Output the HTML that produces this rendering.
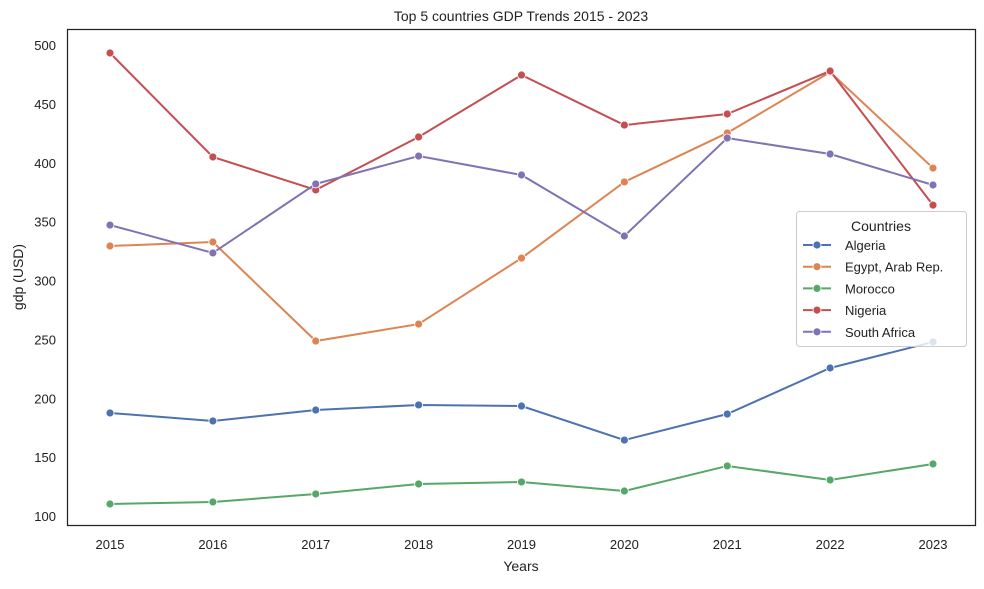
<!DOCTYPE html>
<html><head><meta charset="utf-8"><style>
body{margin:0;background:#fff;font-family:"Liberation Sans","DejaVu Sans",sans-serif;}
svg text{font-family:"Liberation Sans","DejaVu Sans",sans-serif;fill:#222;}
</style></head><body>
<svg id="chart" width="984" height="584" xmlns="http://www.w3.org/2000/svg">
<rect width="984" height="584" fill="#fff"/>
<text x="521" y="21" font-size="14" text-anchor="middle">Top 5 countries GDP Trends 2015 - 2023</text>
<g id="axes"></g>
<g id="series"></g>
<rect x="67.5" y="29.5" width="908" height="496" fill="none" stroke="#222" stroke-width="1.25"/>
<text x="521" y="571" font-size="14" text-anchor="middle">Years</text>
<text x="23" y="277" font-size="14" text-anchor="middle" transform="rotate(-90 23 277)">gdp (USD)</text>
<g id="legend"></g>
</svg>
<script>
const years=[2015,2016,2017,2018,2019,2020,2021,2022,2023];
const yTicks=[100,150,200,250,300,350,400,450,500];
const countries=["Algeria","Egypt, Arab Rep.","Morocco","Nigeria","South Africa"];
const colors=["#4c72b0","#dd8452","#55a868","#c44e52","#8172b3"];
const algeria=[187.5,180.7,190,194.3,193.4,164.5,186.6,225.7,247.8];
const egypt=[329.3,332.7,248.6,263,319,383.7,425.3,477,395.5];
const morocco=[110.2,111.9,118.7,127.2,128.9,121.2,142.5,130.6,144.2];
const nigeria=[493.2,404.9,376.9,421.9,474.5,432,441.4,477.9,364];
const southAfrica=[347.1,323.4,382,405.7,389.6,337.8,421,407.4,381.1];
const seriesData=[algeria,egypt,morocco,nigeria,southAfrica];

const NS="http://www.w3.org/2000/svg";
const xs=y=>110+(y-2015)*(933-110)/8;
const ys=v=>516-(v-100)*(471/400);
function mk(tag,attrs,parent){const e=document.createElementNS(NS,tag);for(const k in attrs)e.setAttribute(k,attrs[k]);parent.appendChild(e);return e;}
const axes=document.getElementById('axes');
years.forEach(y=>{
  const t=mk('text',{x:xs(y),y:549,'font-size':13,'text-anchor':'middle'},axes);
  t.textContent=y;
  
  
});
yTicks.forEach(v=>{
  const t=mk('text',{x:56,y:ys(v)+5,'font-size':13,'text-anchor':'end'},axes);
  t.textContent=v;
  
  
});
const sg=document.getElementById('series');
seriesData.forEach((d,i)=>{
  const g=mk('g',{},sg);
  
  
  mk('polyline',{points:d.map((v,j)=>xs(years[j])+','+ys(v)).join(' '),fill:'none',stroke:colors[i],'stroke-width':2},g);
  d.forEach((v,j)=>{
    const c=mk('circle',{cx:xs(years[j]),cy:ys(v),r:4,fill:colors[i],stroke:'#fff','stroke-width':0.8},g);
    
    
  });
});
const lg=document.getElementById('legend');
mk('rect',{x:796.5,y:211.5,width:170,height:135,rx:3,fill:'#fff','fill-opacity':0.8,stroke:'#ccc'},lg);
const lt=mk('text',{x:881,y:231,'font-size':14,'text-anchor':'middle'},lg);
lt.textContent='Countries';


countries.forEach((c,i)=>{
  const y=245+i*21.7;
  const e=mk('g',{},lg);
  
  
  mk('line',{x1:803,x2:831,y1:y,y2:y,stroke:colors[i],'stroke-width':2},e);
  mk('circle',{cx:817,cy:y,r:4,fill:colors[i],stroke:'#fff','stroke-width':0.8},e);
  const t=mk('text',{x:845,y:y+5,'font-size':13},e);
  t.textContent=c;
});
</script>
</body></html>
